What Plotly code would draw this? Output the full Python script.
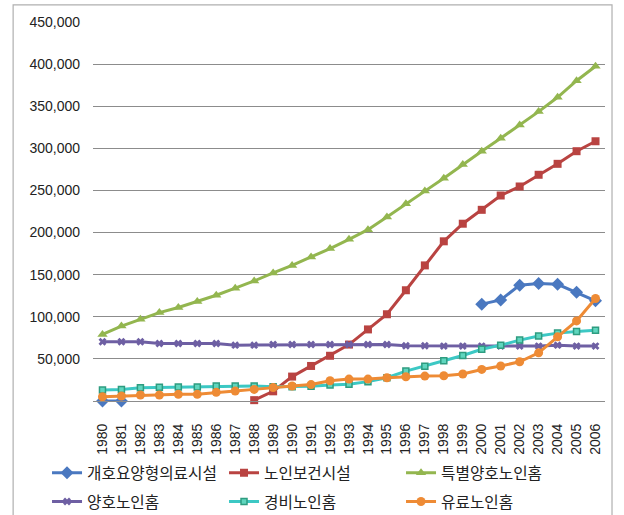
import plotly.graph_objects as go

# Years on the category axis
years = [str(y) for y in range(1980, 2007)]

# Capacity by facility type (persons)
kaigo_ryoyo = [0, 0] + [None] * 18 + [115000, 120000, 137500, 139500, 138500, 129000, 119000]
rojin_hoken = [None] * 8 + [1000, 11500, 29000, 41600, 53700, 67000, 85000, 103000, 131500,
                            161000, 189600, 210500, 227000, 244000, 254700, 268600, 281600, 296600, 308400]
tokubetsu_yogo = [79000, 89000, 97000, 105000, 111000, 118000, 125600, 134000, 142500, 152000,
                  161000, 171000, 181000, 192000, 203400, 218400, 234200, 249200, 264600, 280800,
                  296600, 312000, 327800, 343600, 360600, 380300, 397500]
yogo = [70300, 70300, 70300, 68300, 68300, 68300, 68300, 66300, 66300, 67100,
        67100, 67100, 67100, 67100, 67100, 67100, 65500, 65500, 65200, 65200,
        65200, 65200, 65200, 65200, 66300, 65200, 65200]
keihi = [13000, 13800, 15800, 16200, 16600, 16600, 17800, 17800, 17800, 17000,
         17000, 17500, 19000, 20000, 23000, 27600, 35500, 41300, 47800, 54100,
         61400, 66300, 72300, 77200, 80600, 82500, 84100]
yuryo = [5100, 5900, 7100, 7100, 7900, 7900, 10300, 11800, 13800, 16000,
         17800, 19500, 24000, 26000, 26000, 27600, 28800, 29600, 30000, 32000,
         37500, 41500, 46600, 57200, 76200, 95100, 121700]

series = [
    ("개호요양형의료시설", kaigo_ryoyo, "#4A78C0", "diamond", 10, "legend"),
    ("노인보건시설", rojin_hoken, "#B94341", "square", 8, "legend"),
    ("특별양호노인홈", tokubetsu_yogo, "#93B64F", "triangle-up", 9, "legend"),
    ("양호노인홈", yogo, "#6E5FA3", "x", 7, "legend2"),
    ("경비노인홈", keihi, "#3CC8C4", "square", 6, "legend2"),
    ("유료노인홈", yuryo, "#EE8B35", "circle", 9, "legend2"),
]

fig = go.Figure()
for name, vals, color, sym, size, leg in series:
    marker = dict(symbol=sym, size=size, color=color)
    if name == "경비노인홈":
        marker = dict(symbol=sym, size=size, color="#5FD6BE",
                      line=dict(color="#2E9C80", width=1.5))
    fig.add_trace(go.Scatter(
        x=years, y=vals, name=name, mode="lines+markers",
        line=dict(color=color, width=3), marker=marker,
        connectgaps=False, legend=leg, cliponaxis=False,
    ))

legend_font = dict(family="Noto Sans CJK KR", size=15.7, color="#222222")
fig.update_layout(
    width=624, height=515,
    margin=dict(l=93, r=19, t=22, b=114, autoexpand=False),
    paper_bgcolor="white", plot_bgcolor="white",
    font=dict(family="Liberation Sans", size=14, color="#222222"),
    showlegend=True,
    legend=dict(orientation="h", x=-0.0898, xanchor="left", y=-0.1455, yanchor="top",
                font=legend_font, entrywidth=132, itemwidth=30,
                bgcolor="rgba(0,0,0,0)"),
    legend2=dict(orientation="h", x=-0.0898, xanchor="left", y=-0.221, yanchor="top",
                 font=legend_font, entrywidth=132, itemwidth=30,
                 bgcolor="rgba(0,0,0,0)"),
    xaxis=dict(type="category", range=[-0.5, 26.5], tickangle=-90,
               showgrid=False, showline=True, linecolor="#8c8c8c", linewidth=1,
               ticks="", ticklabelstandoff=16, tickfont=dict(size=14)),
    yaxis=dict(range=[0, 450000], tickvals=list(range(50000, 450001, 50000)),
               tickformat=",", showgrid=True, gridcolor="#8c8c8c", gridwidth=1,
               zeroline=False, showline=False, ticks="", ticklabelstandoff=12,
               tickfont=dict(size=14)),
    shapes=[dict(type="rect", xref="paper", yref="paper",
                 x0=-0.156, x1=1.0137, y0=-0.33, y1=1.045,
                 line=dict(color="#b0b0b0", width=1.2), fillcolor="rgba(0,0,0,0)",
                 layer="below")],
)

fig.write_html("out.html")
